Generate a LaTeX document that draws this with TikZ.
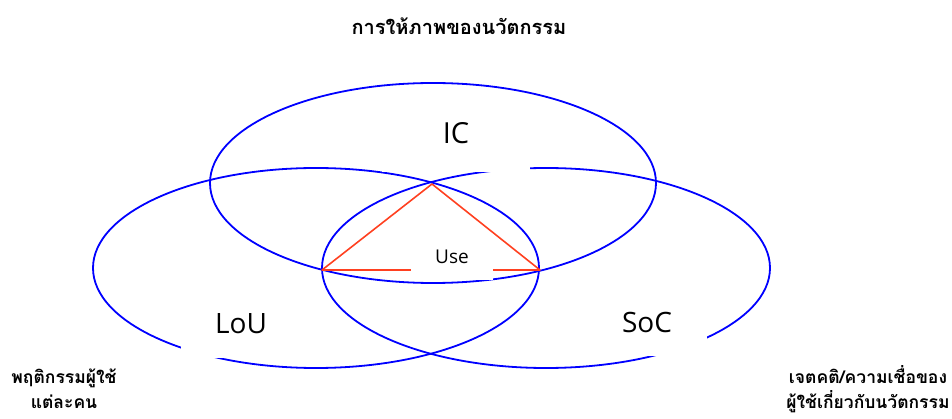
\documentclass[tikz,border=0pt]{standalone}
\usepackage{fontspec}
\setmainfont{Open Sans}
\newfontfamily\thaifont[Script=Thai]{Loma}
\usetikzlibrary{shapes.geometric}
\definecolor{ringblue}{RGB}{0,0,255}
\definecolor{trired}{RGB}{255,64,32}
\begin{document}
\begin{tikzpicture}[x=1pt,y=-1pt,
  ring/.style={draw=ringblue, line width=1.8pt, ellipse, inner sep=0pt, outer sep=0pt},
  mask/.style={fill=white, inner sep=0pt, text=black},
  thai/.style={font=\thaifont\bfseries\fontsize{17.5}{25}\selectfont, align=center, inner sep=0pt}]
\useasboundingbox (0,0) rectangle (952,419);
\node[ring, minimum width=446pt, minimum height=200pt] (ic) at (433,183) {};
\node[ring, minimum width=446pt, minimum height=200pt] (lou) at (316,268) {};
\node[ring, minimum width=448pt, minimum height=200pt] (soc) at (546,268) {};
\coordinate (ta) at (432,184);
\coordinate (tb) at (322,270);
\coordinate (tc) at (540,270);
\draw[trired, line width=1.6pt, line join=round] (ta) -- (tb) -- (tc) -- cycle;
\node[mask, minimum width=148pt, minimum height=78pt, font=\fontsize{29}{34}\selectfont] (iclabel) at (456,133) {IC};
\node[mask, minimum width=120pt, minimum height=68pt, font=\fontsize{28}{34}\selectfont] (loulabel) at (241,324) {LoU};
\node[mask, minimum width=120pt, minimum height=68pt, font=\fontsize{28}{34}\selectfont] (soclabel) at (647,322) {SoC};
\node[mask, minimum width=82pt, minimum height=46pt, font=\fontsize{19}{24}\selectfont] (uselabel) at (452,257) {Use};
\node[thai, font=\thaifont\bfseries\fontsize{20}{26}\selectfont] (title) at (459,26) {การให้ภาพของนวัตกรรม};
\node[thai] (left) at (64,389) {พฤติกรรมผู้ใช้\\แต่ละคน};
\node[thai] (right) at (868,389) {เจตคติ/ความเชื่อของ\\ผู้ใช้เกี่ยวกับนวัตกรรม};
\end{tikzpicture}
\end{document}
